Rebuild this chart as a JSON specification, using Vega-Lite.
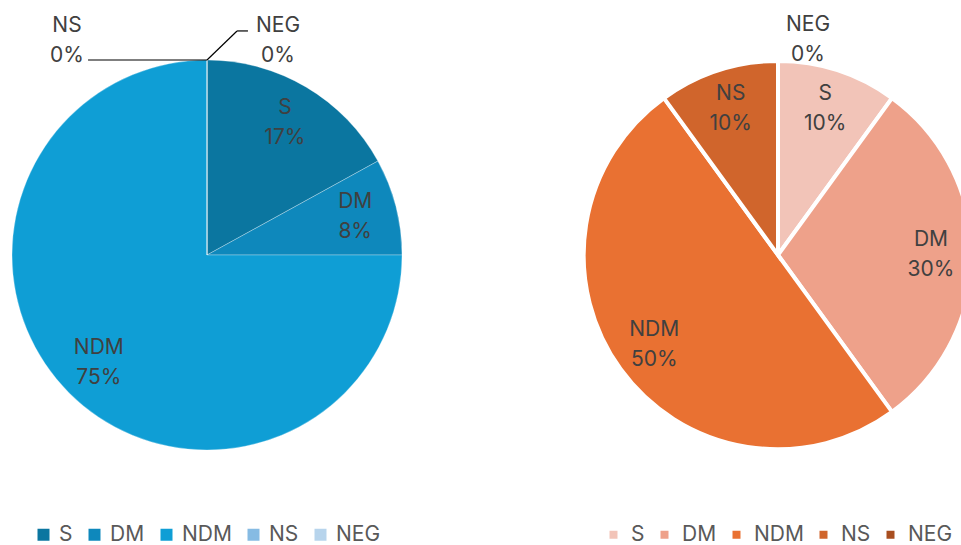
{
  "$schema": "https://vega.github.io/schema/vega-lite/v6.json",
  "padding": 0,
  "background": "white",
  "datasets": {
    "left": [
      {"cat": "S", "rank": 1, "pct": 17},
      {"cat": "DM", "rank": 2, "pct": 8},
      {"cat": "NDM", "rank": 3, "pct": 75},
      {"cat": "NS", "rank": 4, "pct": 0},
      {"cat": "NEG", "rank": 5, "pct": 0}
    ],
    "right": [
      {"cat": "S", "rank": 1, "pct": 10},
      {"cat": "DM", "rank": 2, "pct": 30},
      {"cat": "NDM", "rank": 3, "pct": 50},
      {"cat": "NS", "rank": 4, "pct": 10},
      {"cat": "NEG", "rank": 5, "pct": 0}
    ]
  },
  "spacing": 162,
  "hconcat": [
    {
      "width": 414,
      "height": 510,
      "data": {"name": "left"},
      "transform": [{"calculate": "[datum.cat, datum.pct + '%']", "as": "label"}],
      "layer": [
        {
          "mark": {"type": "arc", "outerRadius": 195, "stroke": "white", "strokeWidth": 0.3},
          "encoding": {
            "theta": {"field": "pct", "type": "quantitative", "stack": true},
            "order": {"field": "rank", "type": "quantitative"},
            "color": {
              "field": "cat",
              "type": "nominal",
              "scale": {
                "domain": ["S", "DM", "NDM", "NS", "NEG"],
                "range": ["#0B76A0", "#0E88BC", "#0F9ED5", "#86BBE3", "#B7D4EC"]
              },
              "legend": {
                "orient": "bottom",
                "direction": "horizontal",
                "title": null,
                "symbolType": "square",
                "symbolSize": 144,
                "symbolStrokeWidth": 0,
                "labelFontSize": 21,
                "labelColor": "#595959",
                "labelFont": "Inter",
                "labelOffset": 5,
                "columnPadding": 11,
                "offset": 14
              }
            }
          }
        },
        {
          "transform": [{"filter": "datum.pct > 0"}],
          "mark": {"type": "text", "radius": 153, "dy": -15, "font": "Inter", "fontSize": 21, "lineHeight": 30, "color": "#404040", "baseline": "middle", "align": "center"},
          "encoding": {
            "theta": {"field": "pct", "type": "quantitative", "stack": true},
            "order": {"field": "rank", "type": "quantitative"},
            "detail": {"field": "cat", "type": "nominal"},
            "text": {"field": "label"}
          }
        },
        {
          "transform": [{"filter": "datum.cat == 'NS'"}],
          "mark": {"type": "text", "radius": 214, "dx": -140, "dy": -15, "font": "Inter", "fontSize": 21, "lineHeight": 30, "color": "#404040", "baseline": "middle", "align": "center"},
          "encoding": {
            "theta": {"field": "pct", "type": "quantitative", "stack": true},
            "order": {"field": "rank", "type": "quantitative"},
            "detail": {"field": "cat", "type": "nominal"},
            "text": {"field": "label"}
          }
        },
        {
          "transform": [{"filter": "datum.cat == 'NEG'"}],
          "mark": {"type": "text", "radius": 214, "dx": 71, "dy": -15, "font": "Inter", "fontSize": 21, "lineHeight": 30, "color": "#404040", "baseline": "middle", "align": "center"},
          "encoding": {
            "theta": {"field": "pct", "type": "quantitative", "stack": true},
            "order": {"field": "rank", "type": "quantitative"},
            "detail": {"field": "cat", "type": "nominal"},
            "text": {"field": "label"}
          }
        },
        {
          "data": {"values": [{}]},
          "mark": {"type": "rule", "color": "#000000", "strokeWidth": 1.2},
          "encoding": {
            "x": {"datum": 0, "type": "quantitative", "scale": {"domain": [-1.0615, 1.0615], "nice": false, "zero": false}, "axis": null},
            "y": {"datum": 1, "type": "quantitative", "scale": {"domain": [-1.3077, 1.3077], "nice": false, "zero": false}, "axis": null},
            "x2": {"datum": -0.61},
            "y2": {"datum": 1}
          }
        },
        {
          "data": {"values": [{}]},
          "mark": {"type": "rule", "color": "#000000", "strokeWidth": 1.2},
          "encoding": {
            "x": {"datum": 0, "type": "quantitative"},
            "y": {"datum": 1, "type": "quantitative"},
            "x2": {"datum": 0.154},
            "y2": {"datum": 1.149}
          }
        },
        {
          "data": {"values": [{}]},
          "mark": {"type": "rule", "color": "#000000", "strokeWidth": 1.2},
          "encoding": {
            "x": {"datum": 0.154, "type": "quantitative"},
            "y": {"datum": 1.149, "type": "quantitative"},
            "x2": {"datum": 0.21},
            "y2": {"datum": 1.149}
          }
        }
      ]
    },
    {
      "width": 400,
      "height": 510,
      "data": {"name": "right"},
      "transform": [{"calculate": "[datum.cat, datum.pct + '%']", "as": "label"}],
      "layer": [
        {
          "mark": {"type": "arc", "outerRadius": 194, "stroke": "white", "strokeWidth": 4},
          "encoding": {
            "theta": {"field": "pct", "type": "quantitative", "stack": true},
            "order": {"field": "rank", "type": "quantitative"},
            "color": {
              "field": "cat",
              "type": "nominal",
              "scale": {
                "domain": ["S", "DM", "NDM", "NS", "NEG"],
                "range": ["#F2C4B8", "#EEA18A", "#E97132", "#D0652C", "#A84E20"]
              },
              "legend": {
                "orient": "bottom",
                "direction": "horizontal",
                "title": null,
                "symbolType": "square",
                "symbolSize": 64,
                "symbolStrokeWidth": 0,
                "labelFontSize": 21,
                "labelColor": "#595959",
                "labelFont": "Inter",
                "labelOffset": 7,
                "columnPadding": 9,
                "offset": 14
              }
            }
          }
        },
        {
          "transform": [{"filter": "datum.pct > 0"}],
          "mark": {"type": "text", "radius": 153, "dy": -15, "font": "Inter", "fontSize": 21, "lineHeight": 30, "color": "#404040", "baseline": "middle", "align": "center"},
          "encoding": {
            "theta": {"field": "pct", "type": "quantitative", "stack": true},
            "order": {"field": "rank", "type": "quantitative"},
            "detail": {"field": "cat", "type": "nominal"},
            "text": {"field": "label"}
          }
        },
        {
          "transform": [{"filter": "datum.cat == 'NEG'"}],
          "mark": {"type": "text", "radius": 215, "dx": 30, "dy": -15, "font": "Inter", "fontSize": 21, "lineHeight": 30, "color": "#404040", "baseline": "middle", "align": "center"},
          "encoding": {
            "theta": {"field": "pct", "type": "quantitative", "stack": true},
            "order": {"field": "rank", "type": "quantitative"},
            "detail": {"field": "cat", "type": "nominal"},
            "text": {"field": "label"}
          }
        }
      ]
    }
  ],
  "resolve": {
    "scale": {"color": "independent", "theta": "independent"},
    "legend": {"color": "independent"}
  },
  "config": {
    "view": {"stroke": null},
    "legend": {"layout": {"bottom": {"anchor": "middle"}}}
  }
}
